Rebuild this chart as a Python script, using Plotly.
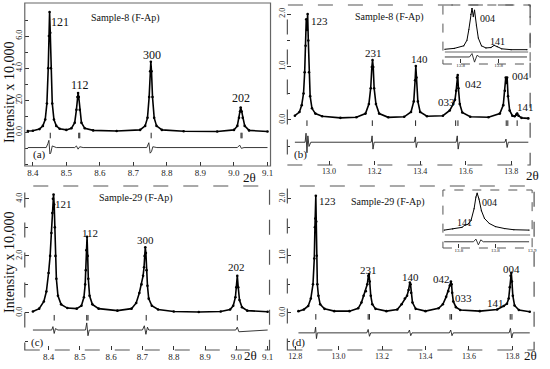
import plotly.graph_objects as go

W, H = 550, 369
FONT = "Liberation Serif"

# ---------------- data ----------------
# Panel (a) Sample-8, low angle
a_x = [8.385, 8.40, 8.42, 8.43, 8.437, 8.442, 8.446, 8.448, 8.450, 8.452, 8.454, 8.458, 8.463, 8.47, 8.48, 8.50,
       8.515, 8.525, 8.530, 8.533, 8.535, 8.537, 8.540, 8.545, 8.555, 8.58, 8.65, 8.72, 8.735, 8.742, 8.747,
       8.750, 8.752, 8.754, 8.757, 8.762, 8.769, 8.785, 8.85, 8.95, 9.00, 9.01, 9.015, 9.018, 9.020, 9.023,
       9.026, 9.032, 9.045, 9.10]
a_y = [0.08, 0.10, 0.2, 0.4, 0.8, 1.8, 4.0, 6.0, 7.5, 6.2, 4.0, 1.8, 0.8, 0.4, 0.22, 0.15,
       0.25, 0.6, 1.4, 2.2, 2.45, 2.2, 1.4, 0.6, 0.25, 0.12, 0.08, 0.15, 0.4, 0.9, 2.2,
       3.8, 4.4, 3.8, 2.2, 0.9, 0.4, 0.15, 0.07, 0.05, 0.15, 0.4, 0.9, 1.3, 1.55, 1.3,
       0.9, 0.4, 0.12, 0.05]
a_dx = [8.385, 8.44, 8.445, 8.448, 8.451, 8.454, 8.458, 8.47, 8.525, 8.53, 8.535, 8.54, 8.55,
        8.74, 8.746, 8.75, 8.754, 8.758, 8.77, 9.01, 9.017, 9.022, 9.03, 9.10]
a_dy = [-0.95, -0.95, -0.7, -0.5, -1.35, -1.25, -0.85, -0.95, -0.95, -0.85, -1.05, -0.9, -0.95,
        -0.95, -0.65, -1.3, -1.2, -0.9, -0.95, -0.95, -0.8, -1.0, -0.95, -0.95]
a_bragg = [8.452, 8.537, 8.540, 8.753, 9.021, 9.024]
a_labels = ["121", "112", "300", "202"]

# Panel (b) Sample-8, high angle
b_x = [12.85, 12.87, 12.88, 12.888, 12.893, 12.897, 12.900, 12.903, 12.906, 12.909, 12.912, 12.917, 12.925,
       12.94, 12.97, 13.05, 13.12, 13.16, 13.175, 13.183, 13.188, 13.191, 13.194, 13.198, 13.206, 13.22,
       13.26, 13.33, 13.36, 13.372, 13.378, 13.381, 13.384, 13.39, 13.40, 13.43, 13.50, 13.53, 13.545,
       13.553, 13.558, 13.562, 13.565, 13.568, 13.574, 13.585, 13.62, 13.70, 13.75, 13.765, 13.772,
       13.776, 13.779, 13.782, 13.786, 13.793, 13.805, 13.815, 13.822, 13.826, 13.832, 13.845, 13.875]
b_y = [0.08, 0.15, 0.28, 0.5, 0.9, 1.4, 1.9, 1.7, 2.0, 1.5, 0.9, 0.45, 0.22,
       0.12, 0.07, 0.04, 0.05, 0.12, 0.3, 0.6, 1.0, 1.13, 1.0, 0.6, 0.3, 0.12,
       0.05, 0.06, 0.15, 0.35, 0.75, 1.02, 0.8, 0.35, 0.15, 0.07, 0.08, 0.18, 0.3,
       0.38, 0.55, 0.8, 0.85, 0.6, 0.3, 0.14, 0.06, 0.05, 0.12, 0.28, 0.55,
       0.8, 0.7, 0.8, 0.45, 0.18, 0.08, 0.07, 0.1, 0.12, 0.08, 0.04, 0.03]
b_dx = [12.85, 12.895, 12.899, 12.903, 12.907, 12.912, 12.92, 13.185, 13.189, 13.193, 13.198,
        13.375, 13.379, 13.383, 13.388, 13.558, 13.563, 13.567, 13.572, 13.772, 13.777, 13.782,
        13.787, 13.875]
b_dy = [-0.42, -0.42, -0.25, -0.62, -0.3, -0.5, -0.42, -0.42, -0.3, -0.55, -0.42,
        -0.42, -0.32, -0.52, -0.42, -0.42, -0.3, -0.55, -0.42, -0.42, -0.36, -0.52,
        -0.42, -0.42]
b_bragg = [12.903, 13.19, 13.38, 13.556, 13.566, 13.778, 13.785, 13.826]
b_labels = ["123", "231", "140", "042", "033", "004", "141"]

# Inset of (b)
bi_x = [13.755, 13.77, 13.785, 13.79, 13.793, 13.796, 13.798, 13.800, 13.802, 13.805, 13.808, 13.813,
        13.82, 13.828, 13.833, 13.838, 13.845, 13.86, 13.885]
bi_y = [0.04, 0.06, 0.12, 0.25, 0.5, 0.85, 1.0, 0.8, 0.95, 0.6, 0.3, 0.12,
        0.07, 0.08, 0.13, 0.1, 0.05, 0.03, 0.03]
bi_dx = [13.755, 13.794, 13.798, 13.802, 13.806, 13.81, 13.885]
bi_dy = [-0.14, -0.14, -0.06, -0.26, -0.1, -0.14, -0.14]

# Panel (c) Sample-29, low angle
c_x = [8.35, 8.37, 8.385, 8.393, 8.400, 8.405, 8.409, 8.412, 8.414, 8.416, 8.418, 8.420, 8.422, 8.425,
       8.43, 8.44, 8.46, 8.49, 8.505, 8.513, 8.517, 8.519, 8.521, 8.523, 8.525, 8.527, 8.531, 8.54,
       8.56, 8.62, 8.665, 8.68, 8.69, 8.697, 8.702, 8.705, 8.707, 8.709, 8.711, 8.713, 8.716, 8.72,
       8.73, 8.75, 8.80, 8.88, 8.95, 8.98, 8.99, 8.997, 9.0, 9.003, 9.006, 9.01, 9.018, 9.035, 9.1]
c_y = [0.05, 0.15, 0.4, 0.75, 1.4, 2.0, 2.8, 3.5, 4.0, 4.15, 3.8, 3.0, 2.0, 1.2,
       0.6, 0.3, 0.17, 0.15, 0.25, 0.55, 1.0, 1.5, 2.2, 2.67, 2.0, 1.2, 0.6, 0.3,
       0.15, 0.08, 0.15, 0.35, 0.7, 1.0, 1.3, 1.6, 2.0, 2.3, 2.1, 1.5, 0.95, 0.5,
       0.25, 0.12, 0.05, 0.03, 0.05, 0.12, 0.25, 0.55, 0.9, 1.3, 0.9, 0.45, 0.2, 0.08, 0.04]
c_dx = [8.35, 8.41, 8.414, 8.418, 8.422, 8.43, 8.518, 8.522, 8.526, 8.53, 8.70, 8.706, 8.711,
        8.716, 8.72, 8.998, 9.003, 9.008, 9.1]
c_dy = [-0.6, -0.6, -0.48, -0.72, -0.55, -0.6, -0.6, -0.35, -0.8, -0.6, -0.6, -0.45, -0.75,
        -0.5, -0.6, -0.6, -0.5, -0.66, -0.6]
c_bragg = [8.418, 8.522, 8.526, 8.712, 9.003]
c_labels = ["121", "112", "300", "202"]

# Panel (d) Sample-29, high angle
d_x = [12.815, 12.84, 12.86, 12.872, 12.882, 12.888, 12.891, 12.893, 12.895, 12.897, 12.899, 12.902,
       12.907, 12.915, 12.935, 12.98, 13.05, 13.09, 13.105, 13.115, 13.125, 13.132, 13.137, 13.14,
       13.143, 13.148, 13.155, 13.17, 13.22, 13.27, 13.29, 13.305, 13.315, 13.322, 13.328, 13.331,
       13.334, 13.34, 13.355, 13.40, 13.46, 13.48, 13.495, 13.505, 13.512, 13.517, 13.52, 13.523,
       13.528, 13.54, 13.56, 13.65, 13.73, 13.76, 13.775, 13.783, 13.788, 13.792, 13.795, 13.798,
       13.802, 13.81, 13.83, 13.88]
d_y = [0.03, 0.06, 0.12, 0.25, 0.5, 0.95, 1.5, 1.65, 2.05, 1.6, 1.0, 0.5,
       0.3, 0.15, 0.07, 0.03, 0.03, 0.08, 0.18, 0.3, 0.38, 0.5, 0.65, 0.68,
       0.55, 0.3, 0.15, 0.07, 0.03, 0.06, 0.15, 0.25, 0.3, 0.4, 0.53, 0.5,
       0.35, 0.18, 0.07, 0.03, 0.08, 0.15, 0.28, 0.38, 0.48, 0.55, 0.5, 0.35,
       0.2, 0.1, 0.05, 0.03, 0.06, 0.12, 0.16, 0.25, 0.45, 0.65, 0.7, 0.55,
       0.3, 0.13, 0.05, 0.02]
d_dx = [12.815, 12.89, 12.894, 12.898, 12.902, 13.13, 13.136, 13.142, 13.148, 13.32, 13.326, 13.332,
        13.338, 13.51, 13.516, 13.522, 13.528, 13.785, 13.791, 13.797, 13.803, 13.88]
d_dy = [-0.35, -0.35, -0.25, -0.45, -0.35, -0.35, -0.29, -0.41, -0.35, -0.35, -0.3, -0.4,
        -0.35, -0.35, -0.3, -0.4, -0.35, -0.35, -0.27, -0.44, -0.35, -0.35]
d_bragg = [12.895, 13.136, 13.142, 13.328, 13.513, 13.52, 13.79, 13.798]
d_labels = ["123", "231", "140", "042", "033", "141", "004"]

# Inset of (d)
di_x = [13.756, 13.77, 13.785, 13.79, 13.795, 13.80, 13.805, 13.808, 13.81, 13.813, 13.817, 13.822,
        13.83, 13.84, 13.855, 13.87, 13.895]
di_y = [0.05, 0.08, 0.12, 0.18, 0.2, 0.3, 0.6, 0.9, 1.0, 0.85, 0.55, 0.35,
        0.22, 0.14, 0.09, 0.06, 0.05]
di_dx = [13.756, 13.804, 13.808, 13.812, 13.816, 13.82, 13.895]
di_dy = [-0.25, -0.25, -0.18, -0.33, -0.2, -0.25, -0.25]

# ---------------- figure ----------------
fig = go.Figure()


def px(x):
    return x / W


def py(y):
    return 1 - y / H


def add_panel(n, x, y, dx, dy, bragg, bragg_y, msize=2.6, lw=1.6):
    xa = "x" if n == 1 else f"x{n}"
    ya = "y" if n == 1 else f"y{n}"
    fig.add_trace(go.Scatter(x=x, y=y, mode="lines+markers", xaxis=xa, yaxis=ya,
                             line=dict(color="black", width=lw),
                             marker=dict(color="black", size=msize), showlegend=False))
    fig.add_trace(go.Scatter(x=dx, y=dy, mode="lines", xaxis=xa, yaxis=ya,
                             line=dict(color="#222", width=0.9), showlegend=False))
    if bragg:
        fig.add_trace(go.Scatter(x=bragg, y=[bragg_y] * len(bragg), mode="markers", xaxis=xa, yaxis=ya,
                                 marker=dict(symbol="line-ns", size=4, line=dict(color="#222", width=1)),
                                 showlegend=False))


add_panel(1, a_x, a_y, a_dx, a_dy, a_bragg, -0.2)
add_panel(2, b_x, b_y, b_dx, b_dy, b_bragg, -0.06)
add_panel(3, c_x, c_y, c_dx, c_dy, c_bragg, -0.17)
add_panel(4, d_x, d_y, d_dx, d_dy, d_bragg, -0.07)
add_panel(5, bi_x, bi_y, bi_dx, bi_dy, [], 0, msize=1.2, lw=1.0)
add_panel(6, di_x, di_y, di_dx, di_dy, [], 0, msize=1.2, lw=1.0)


def xax(dom, rng, dtick, tick0, anchor, show=True, fs=9, standoff=0):
    return dict(domain=[px(dom[0]), px(dom[1])], range=rng, anchor=anchor, dtick=dtick, tick0=tick0,
                showgrid=False, zeroline=False, showline=False, ticks="inside", ticklen=4,
                tickcolor="#333", tickformat=".2f" if dtick < 0.05 else ".1f", showticklabels=show,
                tickfont=dict(family=FONT, size=fs, color="#222"), ticklabelstandoff=standoff)


def yax(dom, rng, vals, minor, anchor, show=True):
    return dict(domain=[py(dom[1]), py(dom[0])], range=rng, anchor=anchor,
                tickvals=vals, ticktext=[f"{v:.1f}" for v in vals], tickangle=-90,
                showgrid=False, zeroline=False, showline=False, ticks="inside" if show else "",
                ticklen=4, tickcolor="#333", showticklabels=show,
                minor=dict(dtick=minor, ticks="inside" if show else "", ticklen=3, tickcolor="#333"),
                tickfont=dict(family=FONT, size=8, color="#222"))


fig.update_layout(
    width=W, height=H, margin=dict(l=0, r=0, t=0, b=0),
    paper_bgcolor="white", plot_bgcolor="rgba(0,0,0,0)",
    xaxis=xax((25, 273), [8.376, 9.109], 0.1, 8.4, "y"),
    yaxis=yax((3, 166), [-2.1, 8.06], [0, 2, 4, 6], 1, "x"),
    xaxis2=xax((290, 535), [12.817, 13.883], 0.2, 13.0, "y2", fs=8),
    yaxis2=yax((5, 165), [-0.85, 2.17], [0, 1, 2], 0.5, "x2"),
    xaxis3=xax((25, 272), [8.324, 9.106], 0.1, 8.4, "y3"),
    yaxis3=yax((186, 350), [-1.3, 4.45], [0, 2, 4], 1, "x3"),
    xaxis4=xax((290, 539), [12.764, 13.9], 0.2, 12.8, "y4", fs=8),
    yaxis4=yax((186, 350), [-0.65, 2.22], [0, 1, 2], 0.5, "x4"),
    xaxis5=xax((447, 535), [13.752, 13.89], 0.06, 13.78, "y5", fs=5, standoff=-2),
    yaxis5=yax((8, 63), [-0.28, 1.0], [], 0.5, "x5", show=False),
    xaxis6=xax((447, 537), [13.754, 13.90], 0.06, 13.78, "y6", fs=5, standoff=-2),
    yaxis6=yax((192, 248), [-0.41, 1.03], [], 0.5, "x6", show=False),
)

# frames
shapes = []


def frame(x0, y0, x1, y1, dash="solid", color="#555", width=1):
    shapes.append(dict(type="rect", xref="paper", yref="paper", x0=px(x0), x1=px(x1), y0=py(y1), y1=py(y0),
                       line=dict(color=color, width=width, dash=dash), fillcolor="rgba(0,0,0,0)"))


frame(25, 3, 273, 166, "solid", "#666", 1.2)
frame(290, 5, 535, 165, "longdash", "#555", 1.2)
frame(25, 186, 272, 350, "longdash", "#555", 1.2)
frame(290, 186, 539, 350, "longdash", "#555", 1.2)
frame(447, 5, 535, 64, "dash", "#555", 1)
frame(447, 190, 537, 248, "dash", "#555", 1)
shapes.append(dict(type="line", xref="paper", yref="paper", x0=px(449), x1=px(533), y0=py(52), y1=py(52),
                   line=dict(color="#444", width=0.8)))
shapes.append(dict(type="line", xref="paper", yref="paper", x0=px(449), x1=px(535), y0=py(235), y1=py(235),
                   line=dict(color="#444", width=0.8)))
fig.update_layout(shapes=shapes)

# annotations
ann = []


def txt(x, y, s, size=11, **kw):
    ann.append(dict(x=px(x), y=py(y), xref="paper", yref="paper", text=s, showarrow=False,
                    xanchor="center", yanchor="middle",
                    font=dict(family=FONT, size=size, color="#111"), **kw))


# panel (a)
for (x, y), s in zip([(61, 22), (81, 85), (153, 55), (243, 98)], a_labels):
    txt(x, y, s, 12)
txt(127, 18, "Sample-8 (F-Ap)", 10)
txt(40, 155, "(a)", 11)
txt(252, 178, "2θ", 13)
txt(9, 92, "Intensity x 10,000", 14, textangle=-90)
# panel (b)
for (x, y), s in zip([(322, 21), (377, 53), (423, 59), (478, 84), (451, 102), (525, 76), (530, 107)], b_labels):
    txt(x, y, s, 11)
txt(393, 17, "Sample-8 (F-Ap)", 10)
txt(303, 155, "(b)", 11)
txt(537, 176, "2θ", 13)
txt(492, 18, "004", 10)
txt(502, 42, "141", 10)
# panel (c)
for (x, y), s in zip([(64, 204), (91, 233), (147, 240), (239, 267)], c_labels):
    txt(x, y, s, 11)
txt(137, 198, "Sample-29 (F-Ap)", 10)
txt(38, 342, "(c)", 11)
txt(253, 355, "2θ", 13)
txt(9, 262, "Intensity x 10,000", 14, textangle=-90)
# panel (d)
for (x, y), s in zip([(331, 201), (372, 270), (414, 277), (446, 279), (468, 298), (500, 303), (516, 269)], d_labels):
    txt(x, y, s, 11)
txt(392, 202, "Sample-29 (F-Ap)", 10)
txt(301, 342, "(d)", 11)
txt(535, 355, "2θ", 13)
txt(494, 202, "004", 10)
txt(469, 223, "141", 10)
fig.update_layout(annotations=ann)

fig.write_html("out.html", config={"displayModeBar": False, "staticPlot": True},
               post_script="document.body.style.margin='0px';")
